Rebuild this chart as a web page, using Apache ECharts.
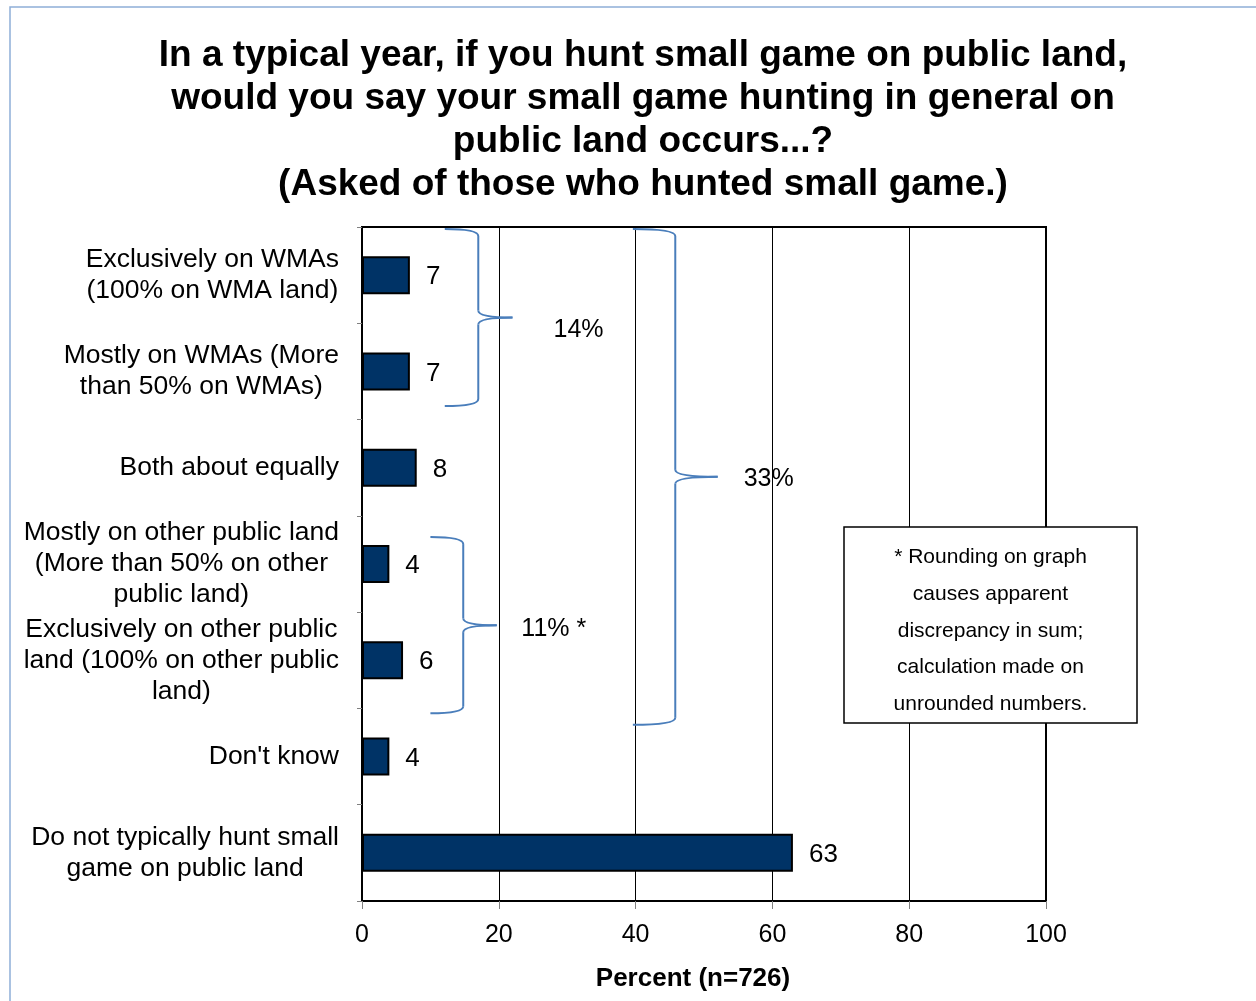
<!DOCTYPE html>
<html>
<head>
<meta charset="utf-8">
<script src="https://cdn.jsdelivr.net/npm/echarts@6/dist/echarts.min.js"></script>
<style>
  html, body { margin: 0; padding: 0; background: #ffffff; }
  #chart { width: 1256px; height: 1001px; }
</style>
</head>
<body>
<div id="chart"></div>
<script>
// Survey answers (top to bottom) and percent of respondents
const categories = [
  'Exclusively on WMAs\n(100% on WMA land)',
  'Mostly on WMAs (More\nthan 50% on WMAs)',
  'Both about equally',
  'Mostly on other public land\n(More than 50% on other\npublic land)',
  'Exclusively on other public\nland (100% on other public\nland)',
  "Don't know",
  'Do not typically hunt small\ngame on public land'
];
const percents = [7, 7, 8, 4, 6, 4, 63];

// Bracketed subtotals: [first category, last category] and the summed percent
const groupSpans = [[0, 1], [0, 4], [3, 4]];
const groupTotals = ['14%', '33%', '11% *'];

const xMin = 0, xMax = 100, xStep = 20;

const noteLines = [
  '* Rounding on graph',
  'causes apparent',
  'discrepancy in sum;',
  'calculation made on',
  'unrounded numbers.'
];

const titleLines = [
  'In a typical year, if you hunt small game on public land,',
  'would you say your small game hunting in general on',
  'public land occurs...?',
  '(Asked of those who hunted small game.)'
];

const FONT = 'Arial, "Liberation Sans", Helvetica, sans-serif';
const chart = echarts.init(document.getElementById('chart'), null, { renderer: 'canvas' });

chart.setOption({
  animation: false,
  backgroundColor: '#ffffff',
  title: {
    text: titleLines.join('\n'),
    left: 643,
    top: 34,
    padding: 0,
    textAlign: 'center',
    textStyle: {
      fontFamily: FONT,
      fontWeight: 'bold',
      fontSize: 37,
      lineHeight: 43,
      color: '#000000'
    }
  },
  grid: {
    left: 362,
    right: 210,
    top: 227,
    bottom: 100,
    show: true,
    borderColor: '#000000',
    borderWidth: 2,
    backgroundColor: 'transparent',
    outerBoundsMode: 'none'
  },
  xAxis: {
    type: 'value',
    min: xMin,
    max: xMax,
    interval: xStep,
    name: 'Percent (n=726)',
    nameLocation: 'middle',
    nameGap: 65,
    nameTextStyle: {
      fontFamily: FONT, fontWeight: 'bold', fontSize: 26, color: '#000000',
      padding: [0, 22, 0, 0]
    },
    axisLine: { show: true, lineStyle: { color: '#000000', width: 2 } },
    axisTick: { show: true, length: 8, lineStyle: { color: '#808080', width: 1 } },
    splitLine: { show: true, lineStyle: { color: '#000000', width: 1 } },
    axisLabel: { fontFamily: FONT, fontSize: 25, color: '#000000', margin: 22 }
  },
  yAxis: {
    type: 'category',
    data: categories,
    inverse: true,
    axisLine: { show: true, lineStyle: { color: '#000000', width: 2 } },
    axisTick: { show: true, length: 5, lineStyle: { color: '#808080', width: 1 } },
    splitLine: { show: false },
    axisLabel: {
      interval: 0,
      margin: 23,
      align: 'right',
      formatter: function (v) {
        return v.split('\n').map(function (s) { return '{c|' + s + '}'; }).join('\n');
      },
      rich: {
        c: { fontFamily: FONT, fontSize: 26.5, lineHeight: 31, color: '#000000', align: 'center' }
      }
    }
  },
  series: [{
    type: 'bar',
    data: percents,
    barWidth: 38,
    itemStyle: { color: '#003366', borderColor: '#000000', borderWidth: 2 },
    label: {
      show: true,
      position: 'right',
      distance: 16,
      fontFamily: FONT,
      fontSize: 26,
      color: '#000000',
      offset: [0, 2]
    }
  }]
});

// Brace geometry: vertical extent in category units (index space), x positions in percent units
const braceLayout = [
  { top: -0.48, bottom: 1.36, tip: 12.1, spine: 17.0, point: 22.0, textX: 28.0, textDy: 13 },
  { top: -0.48, bottom: 4.67, tip: 39.6, spine: 45.8, point: 52.0, textX: 55.8, textDy: 2 },
  { top: 2.72, bottom: 4.55, tip: 10.0, spine: 14.8, point: 19.7, textX: 23.3, textDy: 4 }
];

function drawAnnotations() {
  const c0 = chart.convertToPixel({ yAxisIndex: 0 }, 0);
  const c1 = chart.convertToPixel({ yAxisIndex: 0 }, 1);
  const yPix = function (v) { return c0 + v * (c1 - c0); };
  const xPix = function (v) { return chart.convertToPixel({ xAxisIndex: 0 }, v); };

  const braceStyle = { fill: 'none', stroke: '#4a7ebb', lineWidth: 2 };
  const elements = [];

  // outer frame of the slide
  elements.push({
    type: 'rect',
    silent: true,
    shape: { x: 10, y: 7, width: 1300, height: 1100 },
    style: { fill: 'none', stroke: '#8eaed8', lineWidth: 1.5 },
    z: 0
  });

  groupSpans.forEach(function (span, i) {
    const L = braceLayout[i];
    const yt = yPix(L.top), yb = yPix(L.bottom);
    const ym = (yt + yb) / 2;
    const xt = xPix(L.tip), xs = xPix(L.spine), xp = xPix(L.point);
    const r = 7;
    const curve = function (x1, y1, cx, cy, x2, y2) {
      return {
        type: 'bezierCurve', silent: true, z: 100,
        shape: { x1: x1, y1: y1, cpx1: cx, cpy1: cy, x2: x2, y2: y2 },
        style: braceStyle
      };
    };
    const line = function (x1, y1, x2, y2) {
      return {
        type: 'line', silent: true, z: 100,
        shape: { x1: x1, y1: y1, x2: x2, y2: y2 },
        style: braceStyle
      };
    };
    elements.push(curve(xt, yt, xs, yt, xs, yt + r));
    elements.push(line(xs, yt + r, xs, ym - r));
    elements.push(curve(xs, ym - r, xs, ym, xp, ym));
    elements.push(curve(xp, ym, xs, ym, xs, ym + r));
    elements.push(line(xs, ym + r, xs, yb - r));
    elements.push(curve(xs, yb - r, xs, yb, xt, yb));
    elements.push({
      type: 'text',
      silent: true,
      x: xPix(L.textX),
      y: ym + L.textDy,
      style: {
        text: groupTotals[i],
        fontFamily: FONT,
        fontSize: 25,
        fill: '#000000',
        align: 'left',
        verticalAlign: 'middle'
      },
      z: 100
    });
  });

  // footnote box
  elements.push({
    type: 'group',
    x: 844,
    y: 527,
    z: 120,
    children: [
      {
        type: 'rect',
        silent: true,
        shape: { x: 0, y: 0, width: 293, height: 196 },
        style: { fill: '#ffffff', stroke: '#000000', lineWidth: 1.5 }
      },
      {
        type: 'text',
        silent: true,
        x: 146.5,
        y: 104,
        style: {
          text: noteLines.join('\n'),
          fontFamily: FONT,
          fontSize: 21,
          lineHeight: 36.7,
          fill: '#000000',
          align: 'center',
          verticalAlign: 'middle'
        }
      }
    ]
  });

  chart.setOption({ graphic: { elements: elements } });
}

drawAnnotations();
</script>
</body>
</html>
